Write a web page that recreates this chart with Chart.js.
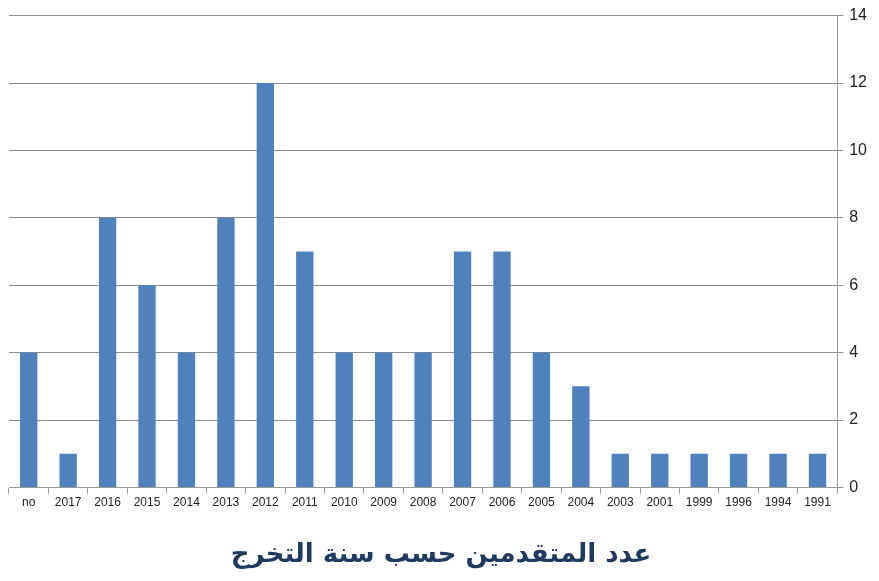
<!DOCTYPE html>
<html><head><meta charset="utf-8">
<script src="https://cdn.jsdelivr.net/npm/chart.js@4/dist/chart.umd.min.js"></script>
<style>html,body{margin:0;padding:0;background:#fff}#wrap{width:879px;height:581px}</style>
</head><body><div id="wrap"><canvas id="c" width="879" height="581"></canvas></div>
<script>
const categories = ["no","2017","2016","2015","2014","2013","2012","2011","2010","2009","2008","2007","2006","2005","2004","2003","2001","1999","1996","1994","1991"];
const counts = [4,1,8,6,4,8,12,7,4,4,4,7,7,4,3,1,1,1,1,1,1];
const yTicks = [0,2,4,6,8,10,12,14];
const titleText = "عدد المتقدمين حسب سنة التخرج";

new Chart(document.getElementById('c'), {
  type: 'bar',
  data: { labels: categories, datasets: [{ data: counts, backgroundColor: '#4f81bd', borderWidth: 0, categoryPercentage: 1.0, barPercentage: 0.44 }] },
  options: {
    responsive: false, animation: false,
    layout: { padding: { left: 9, right: 6, top: 12, bottom: 10 } },
    plugins: {
      legend: { display: false }, tooltip: { enabled: false },
      title: { display: true, position: 'bottom', text: titleText, color: '#1f3a5f',
        font: { family: 'DejaVu Sans', size: 26, weight: 'bold' }, padding: { top: 28, bottom: 0 } }
    },
    scales: {
      x: {
        grid: { display: true, offset: true, drawOnChartArea: false, drawTicks: true, tickLength: 6, color: '#999' },
        border: { display: true, color: '#999' },
        ticks: { color: '#222', font: { family: 'Liberation Sans', size: 12 }, padding: 2, maxRotation: 0, autoSkip: false }
      },
      y: {
        position: 'right', min: 0, max: 14,
        afterBuildTicks: (ax) => { ax.ticks = yTicks.map(v => ({ value: v })); },
        grid: { color: '#8c8c8c', drawTicks: true, tickLength: 6 },
        border: { display: true, color: '#999' },
        ticks: { color: '#222', font: { family: 'Liberation Sans', size: 16 }, padding: 6 }
      }
    }
  }
});
</script></body></html>
